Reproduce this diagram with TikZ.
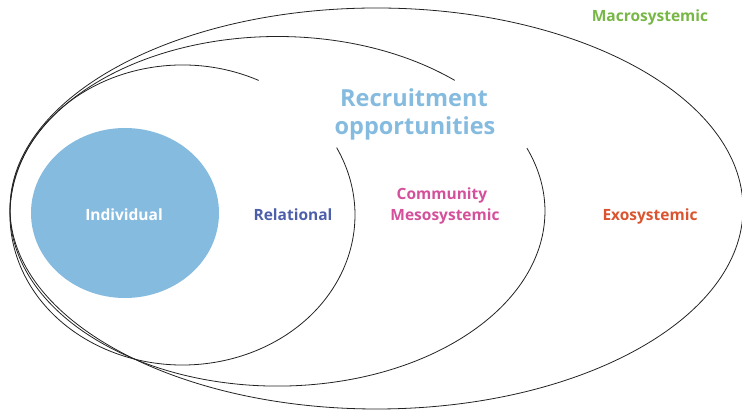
\documentclass[tikz,border=0pt]{standalone}
\usepackage{fontspec}
\setmainfont{Open Sans}
\usetikzlibrary{shapes.geometric}
\definecolor{indblue}{HTML}{86BBE0}
\definecolor{relblue}{HTML}{4D5FAB}
\definecolor{mesopink}{HTML}{D4509B}
\definecolor{exored}{HTML}{DB5430}
\definecolor{macrogreen}{HTML}{77B745}
\definecolor{linegray}{HTML}{222222}
\tikzset{
  ring/.style={draw=linegray, line width=0.8pt},
  lab/.style={anchor=base, inner sep=0pt, font=\bfseries\fontsize{15.5}{15.5}\selectfont},
  biglab/.style={anchor=base, inner sep=0pt, text=indblue, font=\bfseries\fontsize{23.5}{23.5}\selectfont}
}
\begin{document}
\begin{tikzpicture}[x=1pt,y=1pt]
\useasboundingbox (0,0) rectangle (742,411);
% outer ellipse (exo / macro)
\draw[ring] (376.5,202.5) ellipse [x radius=366.5, y radius=200.5];
% mesosystemic ring, open at upper right
\draw[ring] ({277.5+267.5*cos(48.5)},{199.7+174.8*sin(48.5)})
  arc[start angle=48.5, end angle=381.2, x radius=267.5, y radius=174.8];
% relational ring, open at upper right
\draw[ring] ({182.5+172.5*cos(63.8)},{196+150*sin(63.8)})
  arc[start angle=63.8, end angle=386.7, x radius=172.5, y radius=150];
% individual
\node[ellipse, fill=indblue, minimum width=188pt, minimum height=170pt, inner sep=0pt] (ind) at (125,198) {};
\node[lab, text=white] (indl) at (124,190.3) {Individual};
\node[lab, text=relblue] (rel) at (293,190.3) {Relational};
\node[lab, text=mesopink] (com) at (442,211) {Community};
\node[lab, text=mesopink] (meso) at (445,190.3) {Mesosystemic};
\node[lab, text=exored] (exo) at (650,190.3) {Exosystemic};
\node[lab, text=macrogreen] (macro) at (650,389.3) {Macrosystemic};
\node[biglab] (rec1) at (414,304.3) {Recruitment};
\node[biglab] (rec2) at (415,276.7) {opportunities};
\end{tikzpicture}
\end{document}
